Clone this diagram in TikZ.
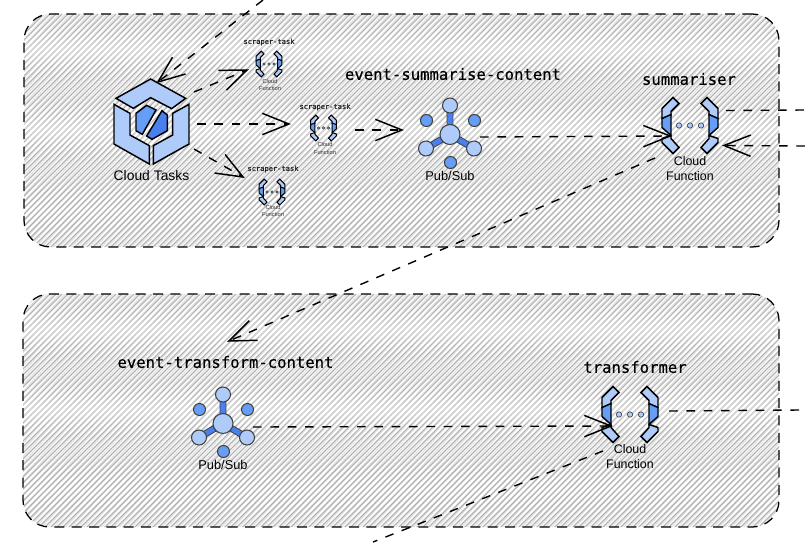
\documentclass[tikz,border=0pt]{standalone}
\usepackage{fontspec}
\setmainfont{Liberation Sans}
\newfontfamily\codefont[FakeBold=0.35]{DejaVu Sans Mono}
\usetikzlibrary{arrows.meta}
\definecolor{lightb}{HTML}{AECBFA}
\definecolor{midb}{HTML}{669DF6}
\definecolor{darkb}{HTML}{4A7FEF}
\pgfarrowsdeclare{longvee}{longvee}{\pgfarrowsleftextend{-20pt}\pgfarrowsrightextend{0pt}}{%
  \pgfsetdash{}{0pt}\pgfsetmiterjoin\pgfsetbuttcap\pgfsetlinewidth{1.1pt}%
  \pgfpathmoveto{\pgfpoint{-20pt}{8pt}}\pgfpathlineto{\pgfpoint{0pt}{0pt}}\pgfpathlineto{\pgfpoint{-20pt}{-8pt}}\pgfusepathqstroke}
\tikzset{
  x=0.75pt,y=-0.75pt,
  flow/.style={draw=black,line width=1.05pt,dash pattern=on 6.5pt off 6.5pt},
  flowarrow/.style={flow,-longvee},
  zone/.style={draw=black,line width=0.95pt,dash pattern=on 7.5pt off 5.5pt},
  hatchA/.style={draw=black!30,line width=0.85pt},
  hatchB/.style={draw=black!14,line width=0.6pt},
  bigtitle/.style={font=\codefont\fontsize{11.7pt}{13pt}\selectfont,inner sep=0pt,text=black},
  smalltitle/.style={font=\codefont\fontsize{5.3pt}{6pt}\selectfont,inner sep=0pt,text=black!85},
  biglabel/.style={align=center,inner sep=0pt,font=\fontsize{9.3pt}{11.2pt}\selectfont},
  smalllabel/.style={align=center,inner sep=0pt,text=black!80,font=\fontsize{4.3pt}{5.4pt}\selectfont},
  pslabel/.style={inner sep=0pt,font=\fontsize{9.6pt}{11pt}\selectfont},
  ctlabel/.style={inner sep=0pt,font=\fontsize{10.4pt}{12pt}\selectfont},
  iconline/.initial=1.1pt,
  cfn/.pic={
    \begin{scope}[draw=black,line width=\pgfkeysvalueof{/tikz/iconline},line join=miter]
    \foreach \s in {-1,1}{
      \begin{scope}[xscale=\s]
      \filldraw[fill=lightb] (-28,-17)--(-17,-28)--(-11,-22)--(-19,-14)--(-19,-10)--(-28,-7)--cycle;
      \filldraw[fill=midb] (-28,-7)--(-19,-11)--(-19,10)--(-28,2)--cycle;
      \filldraw[fill=lightb] (-28,13)--(-19,10)--(-19,13)--(-11,22)--(-17,28)--(-28,17)--cycle;
      \end{scope}
    }
    \filldraw[fill=lightb,line width=0.45pt,draw=black!80] (-11,0) circle (2.7) (0,0) circle (2.7) (11,0) circle (2.7);
    \end{scope}
  },
  psub/.pic={
    \begin{scope}[draw=black!75,line width=0.8pt]
    \draw[draw=black!75,line width=5.2pt] (0,0)--(0,-28) (0,0)--(-24,14) (0,0)--(24,14);
    \draw[draw=darkb,line width=3.8pt] (0,0)--(0,-28) (0,0)--(-24,14) (0,0)--(24,14);
    \filldraw[fill=lightb] (0,-29) circle (7.5) (-24,14) circle (7.5) (24,14) circle (7.5) (0,0) circle (10);
    \filldraw[fill=midb] (-23.5,-14) circle (6) (24.5,-14) circle (6) (0.5,28) circle (6);
    \end{scope}
  }
}
\begin{document}
\begin{tikzpicture}
\useasboundingbox (0,0) rectangle (805,542);
% zone fills
\begin{scope}
  \clip[rounded corners=20pt] (24,14) rectangle (779,247);
  \foreach \i in {-240,-234,...,790}{
    \draw[hatchB] ({\i+3},250) -- ({\i+225},10);
    \draw[hatchA] ({\i},250) -- ({\i+240},10);
  }
\end{scope}
\begin{scope}
  \clip[rounded corners=20pt] (23,294) rectangle (779,527);
  \foreach \i in {-240,-234,...,790}{
    \draw[hatchB] ({\i+3},530) -- ({\i+225},290);
    \draw[hatchA] ({\i},530) -- ({\i+240},290);
  }
\end{scope}
\node[zone,minimum width=566.25pt,minimum height=174.75pt,inner sep=0pt,rounded corners=20pt] (zonetop) at (401.5,130.5) {};
\node[zone,minimum width=567pt,minimum height=174.75pt,inner sep=0pt,rounded corners=20pt] (zonebottom) at (401,410.5) {};

% cloud tasks icon
\begin{scope}[shift={(90,0)},x=0.25pt,y=-0.25pt,draw=black,line width=1.1pt,line join=miter]
  \filldraw[fill=lightb] (78,295)--(182,237)--(287,295)--(245,326)--(182,293)--(130,325)--cycle;
  \filldraw[fill=lightb] (72,313)--(120,340)--(120,405)--(178,437)--(178,492)--(72,432)--cycle;
  \filldraw[fill=lightb] (297,313)--(297,432)--(190,492)--(190,437)--(248,405)--(248,340)--cycle;
  \filldraw[fill=midb] (138,340)--(170,316)--(198,330)--(157,403)--(138,392)--cycle;
  \filldraw[fill=darkb] (216,332)--(232,345)--(232,392)--(186,418)--(170,408)--cycle;
\end{scope}
\node[ctlabel] (tasksl) at (151.5,176) {Cloud Tasks};
\coordinate (tasksA) at (263,0);
\coordinate (tasksAtip) at (158,82);
\coordinate (tasksB) at (194,92);
\coordinate (tasksC) at (197,124);
\coordinate (tasksD) at (194,149);

% small functions
\tikzset{iconline=0.75pt}
\pic[scale=0.46] at (269,64) {cfn};
\pic[scale=0.46] at (323.5,128) {cfn};
\pic[scale=0.46] at (272,192) {cfn};
\tikzset{iconline=1.1pt}
\node[smalltitle] (t1) at (269,42) {scraper-task};
\node[smalltitle] (t2) at (325,107) {scraper-task};
\node[smalltitle] (t3) at (273,169) {scraper-task};
\node[smalllabel] (l1) at (270,85) {Cloud\\Function};
\node[smalllabel] (l2) at (325,148.5) {Cloud\\Function};
\node[smalllabel] (l3) at (273,211) {Cloud\\Function};
\coordinate (s1) at (247,70);
\coordinate (s2) at (289,124);
\coordinate (s2out) at (355,130);
\coordinate (s3) at (243,177);

% pub/sub
\pic at (450,134.5) {psub};
\node[pslabel] (ps1) at (450,176) {Pub/Sub};
\coordinate (ps1in) at (402,130);
\coordinate (ps1out) at (480,137);
\pic at (223,423.5) {psub};
\node[pslabel] (ps2) at (223,465) {Pub/Sub};
\coordinate (ps2out) at (253,427);
\coordinate (ps2tip) at (229,341);

% functions
\pic at (690,125.5) {cfn};
\node[biglabel] (cf1) at (690,169) {Cloud\\Function};
\coordinate (cf1in) at (670,136);
\coordinate (cf1r) at (726,110.5);
\coordinate (cf1rin) at (724,145.5);
\coordinate (cf1low) at (655,158);
\coordinate (edgeA) at (805,110);
\coordinate (edgeB) at (805,146);

\pic at (630,414.5) {cfn};
\node[biglabel] (cf2) at (630,457) {Cloud\\Function};
\coordinate (cf2in) at (611,426);
\coordinate (cf2r) at (669,411);
\coordinate (cf2low) at (603,451);
\coordinate (edgeC) at (800,410);
\coordinate (edgeD) at (373,542);

% titles
\node[bigtitle] (n1) at (453,74) {event-summarise-content};
\node[bigtitle] (n2) at (689,79) {summariser};
\node[bigtitle] (n3) at (225.5,362) {event-transform-content};
\node[bigtitle] (n4) at (635,367) {transformer};

% connectors
\draw[flowarrow] (tasksA) -- (tasksAtip);
\draw[flowarrow] (tasksB) -- (s1);
\draw[flowarrow] (tasksC) -- (s2);
\draw[flowarrow] (tasksD) -- (s3);
\draw[flowarrow] (s2out) -- (ps1in);
\draw[flowarrow] (ps1out) -- (cf1in);
\draw[flow] (cf1r) -- (edgeA);
\draw[flowarrow] (edgeB) -- (cf1rin);
\draw[flowarrow] (cf1low) -- (ps2tip);
\draw[flowarrow] (ps2out) -- (cf2in);
\draw[flow] (cf2r) -- (edgeC);
\draw[flow] (cf2low) -- (edgeD);
\end{tikzpicture}
\end{document}
